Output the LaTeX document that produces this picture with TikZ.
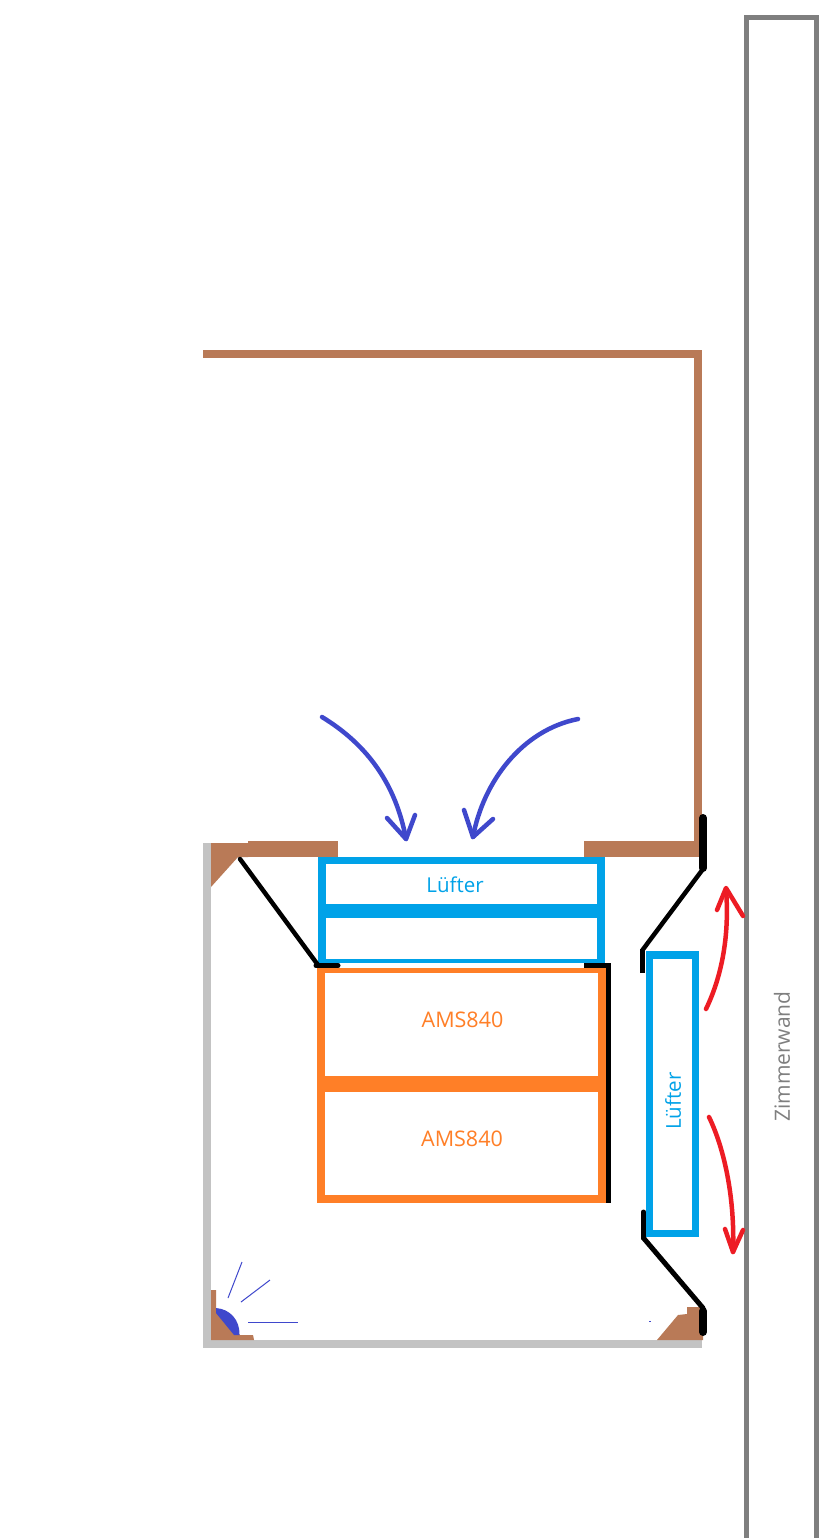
\documentclass[tikz,border=0pt]{standalone}
\usepackage{fontspec}
\setmainfont{Open Sans}
\usetikzlibrary{positioning}
\definecolor{holz}{RGB}{185,122,87}
\definecolor{wandgrau}{RGB}{127,127,127}
\definecolor{hellgrau}{RGB}{195,195,195}
\definecolor{luefter}{RGB}{0,162,232}
\definecolor{ams}{RGB}{255,127,39}
\definecolor{rot}{RGB}{237,28,36}
\definecolor{luft}{RGB}{63,72,204}
\begin{document}
\begin{tikzpicture}[line cap=butt,line join=miter,x=1pt,y=-1pt,
		flow/.style={color=luft,line width=4.5pt,line cap=round,line join=round},
		hot/.style={color=rot,line width=4.5pt,line cap=round,line join=round},
		klappe/.style={color=black,line cap=round,line join=round},
		label/.style={inner sep=0pt,font=\fontsize{21.5}{23}\selectfont}]
		\useasboundingbox (0,0) rectangle (832,1538);
		\fill[white] (0,0) rectangle (832,1538);
		\draw[color=wandgrau,line width=5pt] (746.5,1538)-- (746.5,17.5)-- (816,17.5)-- (816,1538);%zimmerwand
		\fill[holz] (203,350) rectangle (702,358); %deckel
		\fill[holz] (694,350) rectangle (702,857);
		\fill[holz] (584,841) rectangle (702,857);
		\fill[holz] (248,841) rectangle (338,857);
		\fill[holz] (211,843)-- (248,843)-- (248,857)-- (238,857)-- (211,887)-- cycle;%ecke oben
		\fill[hellgrau] (203,843) rectangle (211,1348);
		\fill[hellgrau] (203,1340) rectangle (702,1348);
		\fill[holz] (211,1290)-- (216,1290)-- (216,1308)-- (240,1335)-- (253,1335)-- (254,1340)-- (211,1340)-- cycle;%ecke unten
		\fill[luft] (216,1308) .. controls (230,1309) and (240,1320) .. (239.5,1335)-- (234,1335)-- (216,1313)-- cycle;
		\draw[color=luft,line width=1pt] (228,1298)-- (242,1262);
		\draw[color=luft,line width=1pt] (241,1302)-- (270,1280);
		\draw[color=luft,line width=1pt] (248,1322)-- (298,1322);
		\fill[holz] (657,1340)-- (678,1315)-- (687,1314)-- (687,1307)-- (703,1307)-- (703,1340)-- cycle;
		\fill[luft] (649,1321) rectangle (651,1322);
		% luefter oben
		\draw[color=luefter,line width=7pt] (318,860.5)-- (605,860.5);
		\draw[color=luefter,line width=8pt] (322,857)-- (322,963);
		\draw[color=luefter,line width=8pt] (601,857)-- (601,963);
		\draw[color=luefter,line width=14pt] (318,911)-- (605,911);
		\draw[color=luefter,line width=4pt] (318,961)-- (605,961);
		% ams
		\draw[color=ams,line width=8pt] (321,968)-- (321,1203);
		\draw[color=ams,line width=8pt] (602,968)-- (602,1203);
		\draw[color=ams,line width=5pt] (317,970.5)-- (606,970.5);
		\draw[color=ams,line width=16pt] (317,1084)-- (606,1084);
		\draw[color=ams,line width=8pt] (317,1199)-- (606,1199);
		% luefter rechts
		\draw[color=luefter,line width=6.5pt] (649.25,951)-- (649.25,1237);
		\draw[color=luefter,line width=6.5pt] (695.25,951)-- (695.25,1237);
		\draw[color=luefter,line width=8pt] (646,955)-- (698.5,955);
		\draw[color=luefter,line width=7pt] (646,1233.5)-- (698.5,1233.5);
		% klappen
		\draw[klappe,line width=4.5pt] (240,859)-- (318,965);
		\draw[klappe,line width=5pt] (316,965.5)-- (338,965.5);
		\draw[klappe,line width=5pt,line cap=butt] (584,965.5)-- (611,965.5);
		\draw[klappe,line width=5pt,line cap=butt] (608.5,963)-- (608.5,1203);
		\draw[klappe,line width=8pt] (703,818)-- (703,868);
		\draw[klappe,line width=4.5pt] (703,869)-- (642.5,950);
		\draw[klappe,line width=5pt,line cap=butt] (642.5,949)-- (642.5,973);
		\draw[klappe,line width=5pt] (643.5,1212)-- (643.5,1238);
		\draw[klappe,line width=5pt] (643.5,1238)-- (703,1308);
		\draw[klappe,line width=8pt] (703,1311)-- (703,1332);
		% pfeile
		\draw[flow] (322,717) .. controls (368,745) and (396,785) .. (406,839);
		\draw[flow] (387,818)-- (406,839)-- (415,815);
		\draw[flow] (578,719) .. controls (522,730) and (483,782) .. (473,837);
		\draw[flow] (464,810)-- (473,837)-- (493,819);
		\draw[hot] (706,1009) .. controls (720,980) and (730,940) .. (726,889);
		\draw[hot] (717,910)-- (726,888)-- (743,916);
		\draw[hot] (709,1117) .. controls (725,1150) and (735,1200) .. (733,1252);
		\draw[hot] (725,1229)-- (733,1252)-- (743,1230);
		% texte
		\node[label,color=luefter,font=\fontsize{20.5}{22}\selectfont] (fanoben) at (455,885) {Lüfter};
		\node[label,color=luefter,font=\fontsize{20.5}{22}\selectfont,rotate=90] (fanrechts) at (673,1101) {Lüfter};
		\node[label,color=ams] (amsoben) at (462.5,1020) {AMS840};
		\node[label,color=ams] (amsunten) at (462,1138.5) {AMS840};
		\node[label,color=wandgrau,font=\fontsize{21}{23}\selectfont,rotate=90] (wand) at (782,1056.5) {Zimmerwand};
\end{tikzpicture}
\end{document}
